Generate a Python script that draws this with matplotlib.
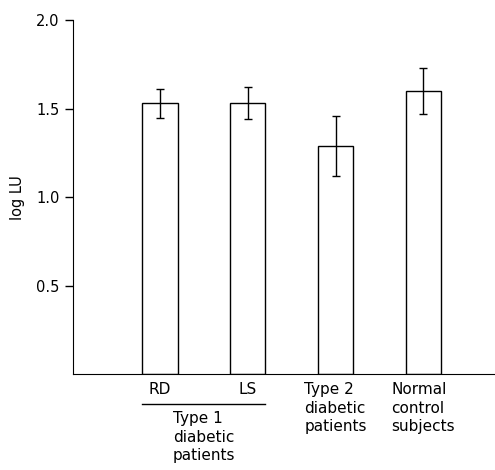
import matplotlib
matplotlib.use("Agg")
import matplotlib.pyplot as plt

# bar values (log LU, mean +/- error)
groups = ["RD", "LS", "Type 2\ndiabetic\npatients", "Normal\ncontrol\nsubjects"]
means = [1.53, 1.53, 1.29, 1.60]
errors = [0.08, 0.09, 0.17, 0.13]
yticks = [0.5, 1.0, 1.5, 2.0]
type1_label = "Type 1\ndiabetic\npatients"

positions = [1, 2, 3, 4]
width = 0.4

plt.rcParams["font.family"] = "DejaVu Sans"
fig = plt.figure(figsize=(4.95, 4.7), dpi=100)
ax = fig.add_axes([0.147, 0.204, 0.85, 0.753])

ax.bar(positions, means, width=width, color="white", edgecolor="black", linewidth=1.0)
ax.errorbar(positions, means, yerr=errors, fmt="none", ecolor="black",
            elinewidth=1.0, capsize=3, capthick=1.0)

ax.set_ylim(0, 2.0)
ax.set_xlim(0.006, 4.8)
ax.set_yticks(yticks)
ax.set_yticklabels([f"{t:.1f}" for t in yticks])
ax.set_xticks([])
ax.tick_params(axis="y", direction="out", length=6, width=1, labelsize=10.5)
ax.spines["top"].set_visible(False)
ax.spines["right"].set_visible(False)
ax.set_ylabel("log LU", fontsize=10.5, labelpad=8)

tr = ax.get_xaxis_transform()
fs = 11
# RD / LS labels and the group line underneath
for p, g in zip(positions[:2], groups[:2]):
    ax.text(p, -0.022, g, transform=tr, ha="center", va="top", fontsize=fs)
ax.plot([positions[0] - width / 2, positions[1] + width / 2], [-0.084, -0.084],
        transform=tr, color="black", lw=1.0, clip_on=False)
ax.text((positions[0] + positions[1]) / 2, -0.104, type1_label, transform=tr,
        ha="center", va="top", multialignment="left", fontsize=fs, linespacing=1.3)
for p, g in zip(positions[2:], groups[2:]):
    ax.text(p, -0.022, g, transform=tr, ha="center", va="top",
            multialignment="left", fontsize=fs, linespacing=1.3)

fig.savefig("out.png", dpi=100)
